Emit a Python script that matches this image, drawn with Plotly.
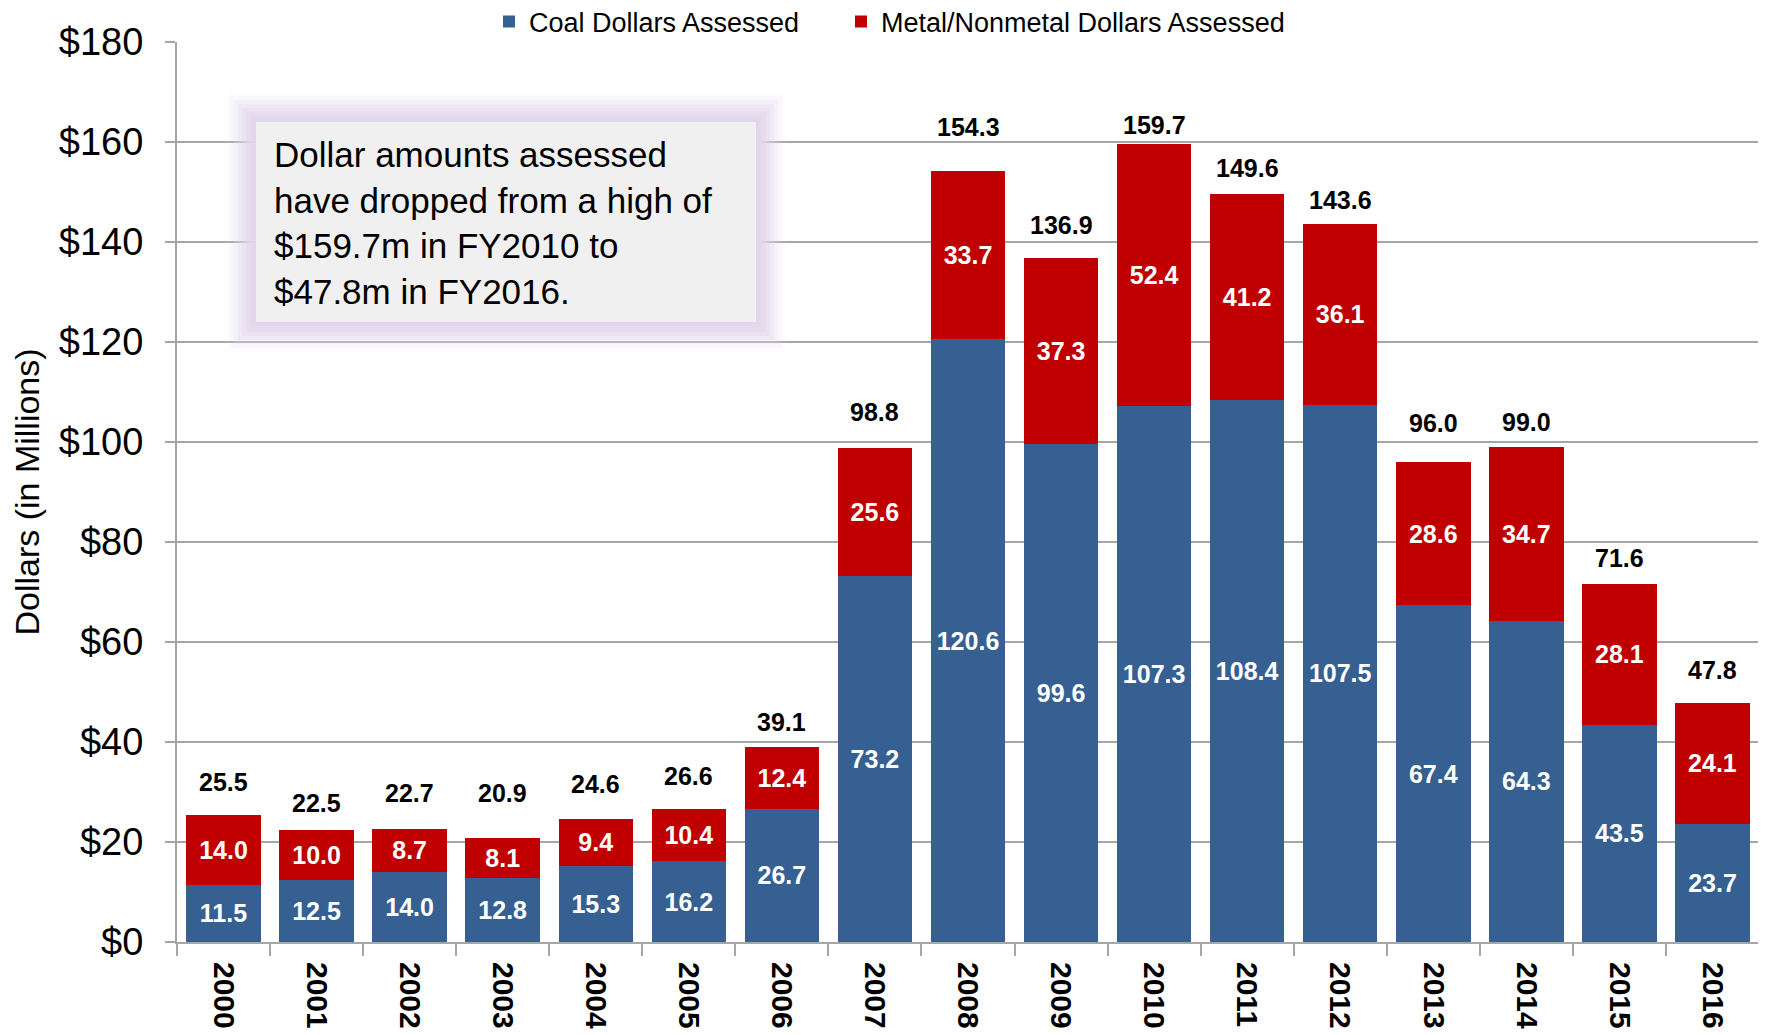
import plotly.graph_objects as go

years = [str(y) for y in range(2000, 2017)]
coal = [11.5, 12.5, 14.0, 12.8, 15.3, 16.2, 26.7, 73.2, 120.6, 99.6, 107.3, 108.4, 107.5, 67.4, 64.3, 43.5, 23.7]
metal = [14.0, 10.0, 8.7, 8.1, 9.4, 10.4, 12.4, 25.6, 33.7, 37.3, 52.4, 41.2, 36.1, 28.6, 34.7, 28.1, 24.1]
totals = [25.5, 22.5, 22.7, 20.9, 24.6, 26.6, 39.1, 98.8, 154.3, 136.9, 159.7, 149.6, 143.6, 96.0, 99.0, 71.6, 47.8]
y_ticks = [0, 20, 40, 60, 80, 100, 120, 140, 160, 180]
y_labels = ["$" + str(v) for v in y_ticks]
note = "Dollar amounts assessed<br>have dropped from a high of<br>$159.7m in FY2010 to<br>$47.8m in FY2016."

# style: pixel gap between each total label's centre and its bar top (as placed in the original)
total_label_gap = [33, 27, 36, 45, 35, 33, 25, 36, 44, 33, 19, 26, 24, 39, 25, 26, 33]

OFF = 8  # page body margin
W, H = 1766 - OFF, 1035 - OFF
PL, PR, PT, PB = 177, 1759, 42, 942  # plot area in page pixels
L, R, T, B = PL - OFF, PR - OFF, PT - OFF, PB - OFF
SANS = "Liberation Sans, Arial, sans-serif"
BLUE = "#376092"
RED = "#C00000"
GRID = "#A6A6A6"

def px(x):
    return (x - PL) / (PR - PL)

def py(y):
    return (PB - y) / (PB - PT)

fig = go.Figure()
fig.add_trace(go.Bar(
    x=years, y=coal, name="Coal Dollars Assessed", marker_color=BLUE,
    text=[f"{v:.1f}" for v in coal], textposition="inside", insidetextanchor="middle",
    textangle=0, constraintext="none",
    textfont=dict(family=SANS, size=25, color="white", weight="bold"),
    marker_line_width=0, legend="legend",
))
fig.add_trace(go.Bar(
    x=years, y=metal, name="Metal/Nonmetal Dollars Assessed", marker_color=RED,
    text=[f"{v:.1f}" for v in metal], textposition="inside", insidetextanchor="middle",
    textangle=0, constraintext="none",
    textfont=dict(family=SANS, size=25, color="white", weight="bold"),
    marker_line_width=0, legend="legend2",
))

for i, (t, g) in enumerate(zip(totals, total_label_gap)):
    fig.add_annotation(x=i, y=t, text=f"{t:.1f}", showarrow=False,
                       yanchor="middle", yshift=g,
                       font=dict(family=SANS, size=25, color="black", weight="bold"))

# soft glow behind note box (page pixels)
bx0, bx1, by0, by1 = 256, 756, 122, 322
glow = [(30, 0.08), (26, 0.12), (22, 0.18), (18, 0.26), (14, 0.36), (10, 0.5), (6, 0.68), (3, 0.85)]
for pad, a in glow:
    fig.add_shape(type="rect", xref="paper", yref="paper",
                  x0=px(bx0 - pad), x1=px(bx1 + pad), y0=py(by1 + pad), y1=py(by0 - pad),
                  fillcolor=f"rgba(226,214,236,{a})", line_width=0, layer="above")
fig.add_shape(type="rect", xref="paper", yref="paper",
              x0=px(bx0), x1=px(bx1), y0=py(by1), y1=py(by0),
              fillcolor="#F0F0F0", line_width=0, layer="above")
fig.add_annotation(xref="paper", yref="paper", x=px(272), y=py(133), xanchor="left", yanchor="top",
                   text=note, align="left", showarrow=False,
                   font=dict(family=SANS, size=35, color="black"))

leg_common = dict(orientation="h", xref="container", yref="container",
                  xanchor="left", yanchor="middle", y=1 - (22 - OFF) / H,
                  font=dict(family=SANS, size=27, color="black"), bgcolor="rgba(0,0,0,0)")

fig.update_layout(
    width=W, height=H,
    margin=dict(l=L, r=W - R, t=T, b=H - B, autoexpand=False),
    barmode="stack", bargap=0.2,
    plot_bgcolor="white", paper_bgcolor="white",
    showlegend=True,
    legend=dict(x=(529 - 40 - OFF) / W, **leg_common),
    legend2=dict(x=(881 - 40 - OFF) / W, **leg_common),
    xaxis=dict(type="category", range=[-0.5, len(years) - 0.5], automargin=False,
               tickangle=90, tickson="boundaries", ticks="outside", ticklen=12,
               ticklabelstandoff=12,
               tickcolor=GRID, tickwidth=2, showline=True, linecolor=GRID, linewidth=2,
               tickfont=dict(family=SANS, size=30, color="black", weight="bold"), showgrid=False),
    yaxis=dict(range=[0, 180], tickvals=y_ticks, ticktext=y_labels, ticks="outside", ticklen=10,
               automargin=False, ticklabelstandoff=14,
               tickcolor=GRID, tickwidth=2, showline=True, linecolor=GRID, linewidth=2,
               showgrid=True, gridcolor=GRID, gridwidth=2, zeroline=False,
               tickfont=dict(family=SANS, size=38, color="black"),
               title=dict(text="Dollars (in Millions)", standoff=10,
                          font=dict(family=SANS, size=34, color="black"))),
)

fig.write_html("out.html")
